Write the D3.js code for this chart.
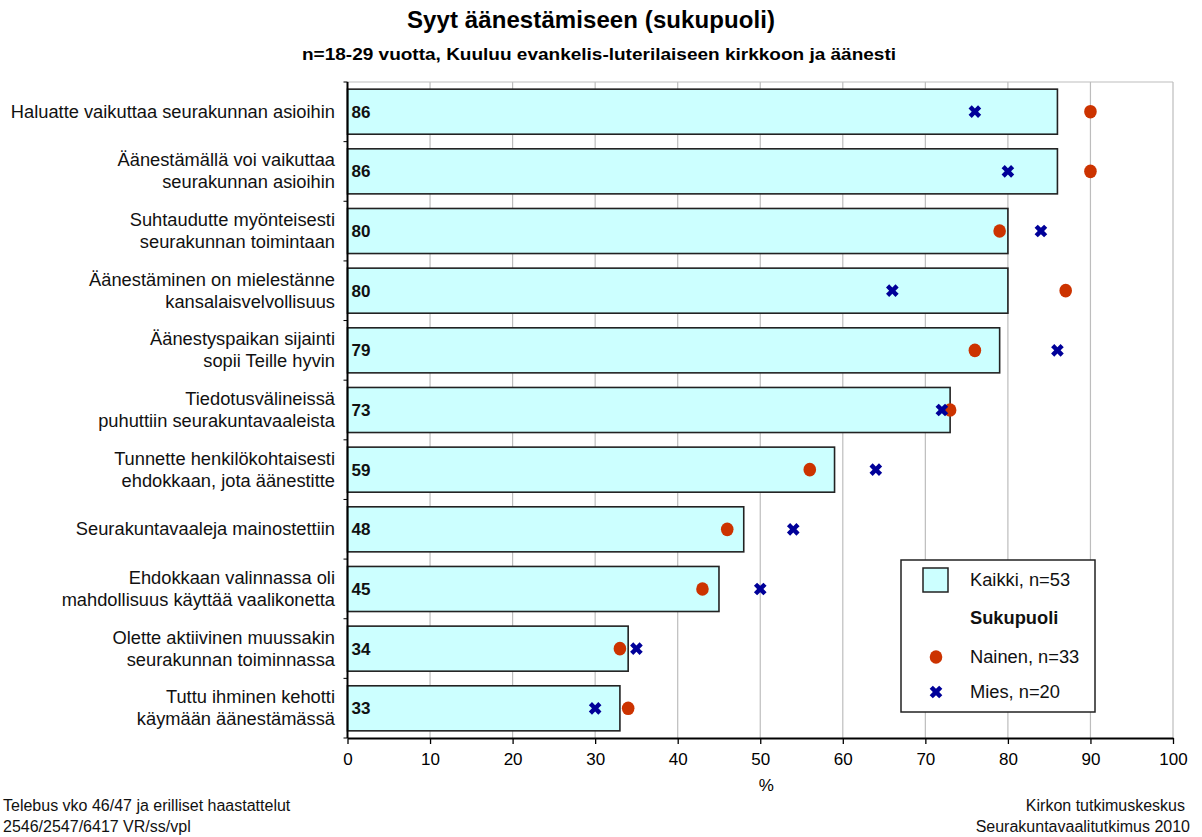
<!DOCTYPE html>
<html><head><meta charset="utf-8">
<script src="https://cdn.jsdelivr.net/npm/d3@7/dist/d3.min.js"></script>
<style>
body{margin:0;background:#fff;}
text{font-family:"Liberation Sans",Arial,sans-serif;}
</style></head>
<body>
<svg id="chart" width="1202" height="837"></svg>
<script>
const categories = [
  ["Haluatte vaikuttaa seurakunnan asioihin"],
  ["Äänestämällä voi vaikuttaa","seurakunnan asioihin"],
  ["Suhtaudutte myönteisesti","seurakunnan toimintaan"],
  ["Äänestäminen on mielestänne","kansalaisvelvollisuus"],
  ["Äänestyspaikan sijainti","sopii Teille hyvin"],
  ["Tiedotusvälineissä","puhuttiin seurakuntavaaleista"],
  ["Tunnette henkilökohtaisesti","ehdokkaan, jota äänestitte"],
  ["Seurakuntavaaleja mainostettiin"],
  ["Ehdokkaan valinnassa oli","mahdollisuus käyttää vaalikonetta"],
  ["Olette aktiivinen muussakin","seurakunnan toiminnassa"],
  ["Tuttu ihminen kehotti","käymään äänestämässä"]
];
const kaikki = [86,86,80,80,79,73,59,48,45,34,33];
const nainen = [90,90,79,87,76,73,56,46,43,33,34];
const mies   = [76,80,84,66,86,72,64,54,50,35,30];
const xTicks = [0,10,20,30,40,50,60,70,80,90,100];
const legendLabels = ["Kaikki, n=53","Sukupuoli","Nainen, n=33","Mies, n=20"];

const svg = d3.select("#chart");
const L = 347.5, R = 1173, T = 82, B = 738;
const x = d3.scaleLinear().domain([0,100]).range([L,R]);
const y = d3.scaleBand().domain(d3.range(categories.length)).range([T,B]).paddingInner(0.245).paddingOuter(0.12);

// title
svg.append("text").attr("x",591).attr("y",28).attr("text-anchor","middle")
  .attr("font-size",24).attr("font-weight","bold").attr("textLength",368).text("Syyt äänestämiseen (sukupuoli)");
svg.append("text").attr("x",599).attr("y",60).attr("text-anchor","middle")
  .attr("font-size",17).attr("font-weight","bold").attr("textLength",594).attr("lengthAdjust","spacingAndGlyphs")
  .text("n=18-29 vuotta, Kuuluu evankelis-luterilaiseen kirkkoon ja äänesti");

// grid
svg.append("g").selectAll("line").data(xTicks.filter(d=>d>0)).join("line")
  .attr("x1",d=>x(d)).attr("x2",d=>x(d)).attr("y1",T).attr("y2",B)
  .attr("stroke","#bdbdbd").attr("stroke-width",1.2);
svg.append("line").attr("x1",L).attr("x2",R).attr("y1",T).attr("y2",T)
  .attr("stroke","#bdbdbd").attr("stroke-width",1.2);

// bars
svg.append("g").selectAll("rect").data(kaikki).join("rect")
  .attr("x",x(0)).attr("y",(d,i)=>y(i)).attr("width",d=>x(d)-x(0)).attr("height",y.bandwidth())
  .attr("fill","#ccffff").attr("stroke","#222").attr("stroke-width",1.6);

// value labels
svg.append("g").selectAll("text").data(kaikki).join("text")
  .attr("x",x(0)+4).attr("y",(d,i)=>y(i)+y.bandwidth()/2+6)
  .attr("font-size",17).attr("font-weight","bold").attr("fill","#111")
  .text(d=>d);

// markers
svg.append("g").selectAll("ellipse").data(nainen).join("ellipse")
  .attr("cx",d=>x(d)).attr("cy",(d,i)=>y(i)+y.bandwidth()/2)
  .attr("rx",6.3).attr("ry",6.8).attr("fill","#cc3300");
const cross = d3.symbol().type(d3.symbolCross).size(100);
svg.append("g").selectAll("path").data(mies).join("path")
  .attr("d",cross)
  .attr("transform",(d,i)=>`translate(${x(d)},${y(i)+y.bandwidth()/2}) rotate(45)`)
  .attr("fill","#000099");

// axes
const xAxis = d3.axisBottom(x).tickValues(xTicks).tickSize(6).tickSizeOuter(0);
const gx = svg.append("g").attr("transform",`translate(0,${B})`).call(xAxis);
gx.select(".domain").attr("stroke","#000").attr("stroke-width",2);
gx.selectAll(".tick line").attr("stroke","#000").attr("stroke-width",1.3);
gx.selectAll(".tick text").attr("font-size",17).attr("font-family","Liberation Sans, Arial, sans-serif").attr("fill","#000").attr("dy","1.05em");
svg.append("line").attr("x1",L).attr("x2",L).attr("y1",T).attr("y2",B).attr("stroke","#000").attr("stroke-width",2);
svg.append("g").selectAll("line").data(d3.range(categories.length+1)).join("line")
  .attr("x1",L-4).attr("x2",L).attr("y1",d=>T + (B-T)/categories.length*d).attr("y2",d=>T + (B-T)/categories.length*d)
  .attr("stroke","#000").attr("stroke-width",1);

svg.append("text").attr("x",(L+R)/2+6).attr("y",791).attr("text-anchor","middle").attr("font-size",17).text("%");

// category labels
const catG = svg.append("g");
categories.forEach((lines,i)=>{
  const c = y(i)+y.bandwidth()/2;
  const t = catG.append("text").attr("text-anchor","end").attr("font-size",18.3).attr("fill","#111");
  if(lines.length===1){
    t.append("tspan").attr("x",335).attr("y",c+6).text(lines[0]);
  } else {
    t.append("tspan").attr("x",335).attr("y",c-5).text(lines[0]);
    t.append("tspan").attr("x",335).attr("y",c+17).text(lines[1]);
  }
});

// legend
const lg = svg.append("g");
lg.append("rect").attr("x",901).attr("y",560).attr("width",194).attr("height",152)
  .attr("fill","#fff").attr("stroke","#222").attr("stroke-width",1.5);
lg.append("rect").attr("x",923).attr("y",568).attr("width",25).attr("height",24)
  .attr("fill","#ccffff").attr("stroke","#222").attr("stroke-width",1.5);
lg.append("ellipse").attr("cx",936).attr("cy",657).attr("rx",6.3).attr("ry",6.8).attr("fill","#cc3300");
lg.append("path").attr("d",cross).attr("transform","translate(936,692) rotate(45)").attr("fill","#000099");
const lgY = [586,624,663,698];
legendLabels.forEach((s,i)=>{
  lg.append("text").attr("x",970).attr("y",lgY[i]).attr("font-size",18.3)
    .attr("font-weight",i===1?"bold":"normal").attr("fill","#111").text(s);
});

// footer
const foot = [["Telebus vko 46/47 ja erilliset haastattelut",3,811,"start"],
              ["2546/2547/6417 VR/ss/vpl",3,832,"start"],
              ["Kirkon tutkimuskeskus",1185,811,"end"],
              ["Seurakuntavaalitutkimus 2010",1190,832,"end"]];
foot.forEach(f=>svg.append("text").attr("x",f[1]).attr("y",f[2]).attr("text-anchor",f[3]).attr("font-size",16).attr("fill","#111").text(f[0]));
</script>
</body></html>
